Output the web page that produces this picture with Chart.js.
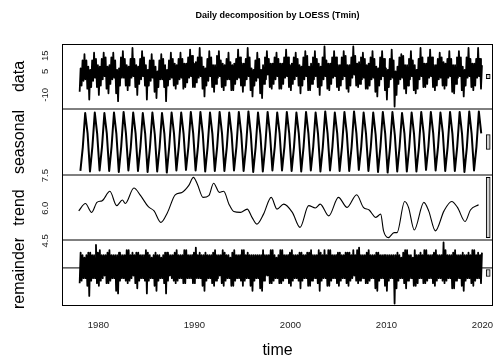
<!DOCTYPE html>
<html>
<head>
<meta charset="utf-8">
<script src="https://cdn.jsdelivr.net/npm/chart.js@4/dist/chart.umd.min.js"></script>
<style>
  html, body { margin: 0; padding: 0; background: #fff; }
  #wrap { position: relative; width: 503px; height: 363px; overflow: hidden; }
  canvas { position: absolute; left: 0; }
</style>
</head>
<body>
<div id="wrap">
  <canvas id="cData" width="503" height="111" style="top:0px;width:503px;height:111px"></canvas>
  <canvas id="cSeas" width="503" height="70" style="top:107px;width:503px;height:70px"></canvas>
  <canvas id="cTrend" width="503" height="89" style="top:163px;width:503px;height:89px"></canvas>
  <canvas id="cRem" width="503" height="125" style="top:238px;width:503px;height:125px"></canvas>
</div>
<script>
const firstYear = 1978;
const xTicks = [1980, 1990, 2000, 2010, 2020];
const dataTicks = [-10, 5, 15];
const trendTicks = [4.5, 6.0, 7.5];
const xMin = 1976.21, xMax = 2021.1;
const barX = 2020.6;

// data: per year, alternating low / high envelope of the daily values
const dataEnvelope = [
  [-8, 7, -4, 12, -1, 16, 0, 12, -6, 8],
  [-13, 6, -5, 12, -1, 17, 1, 13, -5, 9],
  [-10, 8, -4, 13, 0, 17, 2, 14, -6, 8],
  [-9, 9, -3, 14, 0, 17, 1, 12, -9, 6],
  [-14, 7, -4, 14, 1, 18, 1, 13, -4, 9],
  [-7, 8, -4, 13, 1, 20, 2, 13, -5, 9],
  [-10, 8, -3, 13, 0, 18, 2, 14, -4, 9],
  [-13, 6, -4, 12, -1, 16, 1, 12, -8, 8],
  [-12, 5, -5, 12, 0, 16, 0, 13, -5, 9],
  [-14, 6, -4, 12, 0, 17, 1, 13, -4, 10],
  [-6, 9, -3, 13, 0, 17, 1, 13, -6, 10],
  [-5, 10, -2, 14, 1, 19, 2, 15, -5, 10],
  [-5, 11, -2, 14, 1, 20, 2, 14, -6, 8],
  [-11, 7, -4, 13, -1, 18, 2, 14, -5, 9],
  [-8, 9, -3, 15, 1, 18, 2, 12, -5, 10],
  [-7, 9, -4, 13, 0, 17, 0, 11, -7, 9],
  [-7, 10, -3, 13, 0, 19, 1, 14, -4, 10],
  [-8, 10, -4, 13, 0, 20, 2, 14, -7, 7],
  [-11, 6, -4, 12, -1, 17, 1, 13, -9, 6],
  [-12, 9, -3, 14, 0, 18, 3, 13, -5, 10],
  [-6, 10, -3, 14, 0, 17, 2, 13, -6, 10],
  [-6, 10, -3, 14, 1, 19, 2, 14, -5, 9],
  [-7, 10, -3, 14, 0, 17, 2, 13, -4, 9],
  [-9, 8, -4, 14, 0, 18, 2, 15, -7, 8],
  [-7, 10, -3, 14, 0, 18, 2, 13, -5, 10],
  [-10, 8, -4, 14, 0, 21, 2, 12, -6, 10],
  [-7, 10, -3, 14, 1, 18, 2, 14, -5, 9],
  [-7, 9, -4, 14, 0, 18, 2, 15, -6, 9],
  [-8, 9, -4, 14, 1, 21, 3, 15, -4, 10],
  [-5, 11, -3, 14, 0, 17, 1, 13, -6, 9],
  [-6, 10, -4, 14, 0, 18, 1, 13, -8, 8],
  [-11, 7, -4, 14, 0, 18, 2, 13, -7, 7],
  [-13, 6, -5, 13, 0, 19, 1, 12, -17.5, 5],
  [-10, 8, -3, 14, 0, 16, 1, 15, -6, 9],
  [-9, 9, -4, 13, 0, 18, 2, 12, -7, 9],
  [-9, 6, -6, 13, 0, 20, 2, 14, -5, 10],
  [-5, 10, -3, 14, 1, 19, 2, 14, -5, 9],
  [-7, 9, -4, 13, 0, 17, 1, 14, -4, 11],
  [-6, 10, -4, 13, 1, 18, 2, 13, -8, 9],
  [-9, 9, -3, 14, 1, 18, 2, 14, -7, 8],
  [-11, 6, -4, 14, 1, 20, 2, 13, -5, 10],
  [-7, 10, -4, 13, 1, 20, 2, 13, -6, 9]
];

// seasonal: per year, winter / spring / summer / autumn
const seasonalValues = [
  [-5.7, -1.3, 5.1, 1.3], [-5.8, -1.2, 5.2, 1.2], [-5.6, -1.2, 5.1, 1.3], [-5.7, -1.1, 5.2, 1.2],
  [-5.9, -1.2, 5.3, 1.2], [-5.6, -1.3, 5.2, 1.3], [-5.7, -1.2, 5.1, 1.2], [-5.9, -1.2, 5.2, 1.1],
  [-5.8, -1.3, 5.1, 1.2], [-6.0, -1.2, 5.2, 1.3], [-5.6, -1.1, 5.2, 1.2], [-5.5, -1.2, 5.3, 1.3],
  [-5.6, -1.1, 5.3, 1.2], [-5.8, -1.2, 5.2, 1.2], [-5.7, -1.1, 5.3, 1.3], [-5.7, -1.2, 5.2, 1.2],
  [-5.6, -1.2, 5.3, 1.3], [-5.7, -1.2, 5.4, 1.2], [-5.9, -1.3, 5.2, 1.1], [-5.8, -1.2, 5.3, 1.2],
  [-5.6, -1.1, 5.2, 1.3], [-5.6, -1.2, 5.3, 1.3], [-5.7, -1.2, 5.2, 1.2], [-5.8, -1.1, 5.3, 1.3],
  [-5.6, -1.2, 5.2, 1.2], [-5.8, -1.2, 5.4, 1.2], [-5.6, -1.2, 5.2, 1.3], [-5.7, -1.1, 5.3, 1.3],
  [-5.7, -1.2, 5.4, 1.3], [-5.5, -1.2, 5.2, 1.2], [-5.7, -1.2, 5.2, 1.1], [-5.9, -1.2, 5.3, 1.2],
  [-6.0, -1.3, 5.3, 1.0], [-5.8, -1.1, 5.1, 1.3], [-5.8, -1.2, 5.2, 1.2], [-5.8, -1.4, 5.3, 1.3],
  [-5.5, -1.1, 5.3, 1.3], [-5.6, -1.2, 5.2, 1.4], [-5.7, -1.2, 5.3, 1.2], [-5.7, -1.1, 5.3, 1.2],
  [-5.9, -1.3, 5.4, 1.2], [-5.6, -1.2, 5.4, 1.3]
];

// trend: turning points
const trendTimes = [1977.95, 1978.65, 1979.3, 1979.85, 1980.4, 1981.2, 1981.9, 1982.5, 1982.8, 1983.7,
  1984.4, 1985.2, 1985.8, 1986.5, 1987.2, 1988.0, 1988.7, 1989.4, 1989.9, 1990.3, 1990.9, 1991.5,
  1992.0, 1992.6, 1993.05, 1993.6, 1994.1, 1994.8, 1995.5, 1996.0, 1996.5, 1997.2, 1998.0, 1998.6,
  1999.3, 2000.2, 2001.0, 2001.9, 2002.6, 2003.1, 2004.0, 2005.0, 2005.9, 2006.9, 2007.6, 2008.2,
  2008.9, 2009.4, 2009.7, 2010.2, 2010.8, 2011.1, 2011.9, 2012.3, 2012.9, 2013.9, 2014.4, 2015.1,
  2016.0, 2016.8, 2017.4, 2018.2, 2018.75, 2019.6];
const trendValues = [5.88, 6.22, 5.81, 6.27, 6.35, 6.78, 6.12, 6.38, 6.22, 6.93,
  6.58, 6.07, 5.88, 5.35, 5.81, 6.62, 6.73, 7.04, 7.42, 7.12, 6.5, 6.58,
  7.15, 6.73, 6.78, 6.19, 5.85, 5.81, 5.96, 5.58, 5.27, 5.73, 6.5, 5.96,
  6.19, 5.81, 5.12, 6.12, 6.01, 6.19, 5.65, 6.5, 6.04, 6.62, 6.04, 5.92,
  5.58, 5.73, 4.96, 4.65, 4.88, 4.88, 6.31, 6.04, 5.0, 6.27, 5.88, 4.96,
  5.88, 6.31, 6.04, 5.39, 5.92, 6.16];

// remainder: per year, alternating low / high envelope
const remainderEnvelope = [
  [-6, 6, -5, 5, -4, 4, -4, 5, -7, 6],
  [-11, 6, -5, 5, -4, 5, -4, 9, -6, 6],
  [-7, 7, -5, 5, -4, 5, -3, 5, -6, 6],
  [-6, 7, -5, 5, -4, 5, -4, 5, -9, 5],
  [-10, 6, -5, 5, -4, 5, -4, 5, -5, 7],
  [-6, 7, -5, 5, -4, 6, -3, 5, -6, 6],
  [-8, 6, -5, 5, -4, 5, -4, 5, -5, 7],
  [-10, 6, -5, 5, -4, 4, -4, 5, -7, 6],
  [-9, 5, -5, 5, -4, 4, -4, 5, -6, 6],
  [-10, 6, -5, 5, -3, 5, -4, 5, -5, 6],
  [-6, 7, -5, 5, -4, 5, -4, 5, -6, 7],
  [-6, 7, -4, 5, -4, 5, -4, 5, -6, 6],
  [-6, 8, -4, 5, -4, 6, -4, 5, -7, 5],
  [-9, 6, -5, 5, -4, 5, -4, 5, -6, 6],
  [-7, 7, -5, 5, -4, 5, -3, 5, -6, 7],
  [-7, 6, -5, 5, -4, 5, -4, 4, -7, 6],
  [-7, 7, -5, 5, -4, 5, -4, 5, -5, 7],
  [-7, 7, -5, 5, -4, 6, -4, 5, -7, 5],
  [-9, 5, -5, 5, -4, 5, -4, 5, -8, 5],
  [-9, 7, -5, 5, -3, 5, -3, 5, -6, 7],
  [-6, 7, -5, 5, -4, 4, -4, 5, -6, 7],
  [-6, 7, -5, 5, -4, 5, -4, 5, -6, 6],
  [-7, 7, -5, 5, -4, 5, -4, 5, -5, 6],
  [-8, 6, -5, 5, -4, 5, -4, 6, -7, 6],
  [-7, 7, -5, 5, -4, 5, -4, 5, -6, 7],
  [-9, 6, -5, 5, -4, 7, -4, 5, -7, 7],
  [-7, 7, -5, 5, -4, 5, -4, 5, -6, 6],
  [-7, 6, -5, 5, -4, 5, -4, 6, -6, 6],
  [-7, 6, -5, 5, -4, 7, -3, 5, -5, 7],
  [-6, 8, -5, 5, -4, 5, -4, 5, -6, 6],
  [-6, 7, -5, 5, -4, 5, -4, 5, -8, 6],
  [-9, 6, -5, 5, -4, 5, -4, 5, -7, 5],
  [-9, 5, -5, 5, -4, 5, -4, 5, -14, 5],
  [-8, 6, -5, 5, -4, 4, -4, 6, -6, 7],
  [-8, 7, -5, 5, -4, 5, -4, 4, -7, 7],
  [-7, 5, -6, 5, -4, 6, -4, 5, -6, 7],
  [-6, 7, -5, 5, -4, 5, -4, 5, -6, 6],
  [-7, 7, -5, 5, -4, 5, -4, 5, -5, 10],
  [-6, 7, -5, 5, -4, 5, -4, 5, -8, 6],
  [-8, 7, -5, 5, -4, 5, -4, 5, -7, 6],
  [-9, 5, -5, 5, -4, 6, -4, 5, -6, 7],
  [-7, 7, -5, 5, -4, 6, -4, 5, -6, 6]
];

const FONT = "'Liberation Sans', Arial, sans-serif";

function yearRowsToPoints(rows) {
  const pts = [];
  rows.forEach((row, yi) => {
    row.forEach((v, k) => pts.push({ x: firstYear + yi + (k + 0.5) / row.length, y: v }));
  });
  return pts;
}

function extent(values) {
  return [Math.min(...values), Math.max(...values)];
}

const dataRange = extent(dataEnvelope.flat());
const seasRange = extent(seasonalValues.flat());
const trendRange = extent(trendValues);
const remRange = extent(remainderEnvelope.flat());
// range bars all share the height of the smallest component range
const barSize = Math.min(...[dataRange, seasRange, trendRange, remRange].map(r => r[1] - r[0]));

// box around each panel; inner separators come out as soft grey double lines
const panelBox = {
  id: 'panelBox',
  afterDatasetsDraw(chart, args, o) {
    const { ctx, chartArea: a } = chart;
    const L = Math.round(a.left) + 0.5, R = Math.round(a.right) - 0.5;
    ctx.save();
    ctx.strokeStyle = '#000';
    ctx.lineWidth = 1;
    ctx.beginPath();
    ctx.moveTo(L, a.top); ctx.lineTo(L, a.bottom);
    ctx.moveTo(R, a.top); ctx.lineTo(R, a.bottom);
    if (o.top) { ctx.moveTo(L, a.top + 0.5); ctx.lineTo(R, a.top + 0.5); }
    const yb = o.inner ? a.bottom : a.bottom - 0.5;
    ctx.moveTo(L, yb); ctx.lineTo(R, yb);
    ctx.stroke();
    ctx.restore();
  }
};

function noEdgePadding(s) {
  s.paddingLeft = 0; s.paddingRight = 0; s.paddingTop = 0; s.paddingBottom = 0;
}

function panel(id, p) {
  const [lo, hi] = p.range;
  const pad = 0.04 * (hi - lo);
  const mid = (lo + hi) / 2;
  const datasets = [{
    data: p.points,
    borderColor: '#000',
    borderWidth: p.lineWidth,
    borderJoinStyle: 'round',
    pointRadius: 0,
    tension: p.smooth ? 0.4 : 0,
    cubicInterpolationMode: p.smooth ? 'monotone' : 'default',
    order: 1
  }];
  if (p.zeroLine) {
    datasets.push({
      data: [{ x: xMin, y: 0 }, { x: xMax, y: 0 }],
      borderColor: '#000', borderWidth: 1, pointRadius: 0, order: 2
    });
  }
  datasets.push({
    type: 'bar',
    data: [{ x: barX, y: [mid - barSize / 2, mid + barSize / 2] }],
    backgroundColor: '#d3d3d3',
    borderColor: '#000',
    borderWidth: 1,
    borderSkipped: false,
    barThickness: 4,
    order: 0
  });

  return new Chart(document.getElementById(id), {
    type: 'line',
    data: { datasets },
    options: {
      responsive: false,
      animation: false,
      events: [],
      layout: { padding: { left: 0, right: 10, top: p.padTop, bottom: p.padBottom } },
      plugins: {
        legend: { display: false },
        tooltip: { enabled: false },
        title: p.title ? {
          display: true,
          text: p.title,
          fullSize: false,
          color: '#000',
          font: { family: FONT, size: 9, weight: 'bold' },
          padding: { top: 10.6, bottom: 22.6 }
        } : { display: false },
        panelBox: { top: !!p.outerTop, inner: !p.outerBottom }
      },
      scales: {
        x: {
          type: 'linear',
          min: xMin,
          max: xMax,
          offset: false,
          display: !!p.xAxis,
          grid: { display: false, drawTicks: false, offset: false },
          border: { display: false },
          afterBuildTicks: s => { s.ticks = xTicks.map(v => ({ value: v })); },
          afterFit: s => { noEdgePadding(s); if (p.xAxis) s.height = 57; },
          ticks: {
            padding: 14,
            color: '#222',
            font: { family: FONT, size: 9.5 },
            callback: v => String(v)
          },
          title: {
            display: true,
            text: 'time',
            color: '#000',
            font: { family: FONT, size: 16 },
            padding: { top: 0, bottom: 2.4 }
          }
        },
        y: {
          min: lo - pad,
          max: hi + pad,
          grid: { display: false, drawTicks: false },
          border: { display: false },
          afterFit: s => { noEdgePadding(s); s.width = 62; },
          afterBuildTicks: s => { s.ticks = (p.ticks || []).map(v => ({ value: v })); },
          ticks: {
            display: !!p.ticks,
            minRotation: 90,
            maxRotation: 90,
            crossAlign: 'center',
            padding: 10,
            color: '#222',
            font: { family: FONT, size: 9.5 },
            callback: p.fmt || (v => String(v))
          },
          title: {
            display: true,
            text: p.label,
            color: '#000',
            font: { family: FONT, size: 16 },
            padding: { top: 9.8, bottom: 0 }
          }
        }
      }
    },
    plugins: [panelBox]
  });
}

panel('cData', {
  label: 'data', title: 'Daily decomposition by LOESS (Tmin)',
  points: yearRowsToPoints(dataEnvelope), range: dataRange, lineWidth: 1.8,
  ticks: dataTicks, padTop: 0, padBottom: 2, outerTop: true
});
panel('cSeas', {
  label: 'seasonal',
  points: yearRowsToPoints(seasonalValues), range: seasRange, lineWidth: 2,
  padTop: 2, padBottom: 2
});
panel('cTrend', {
  label: 'trend',
  points: trendTimes.map((t, i) => ({ x: t, y: trendValues[i] })), range: trendRange,
  lineWidth: 1.1, smooth: true,
  ticks: trendTicks, fmt: v => v.toFixed(1), padTop: 12, padBottom: 12
});
panel('cRem', {
  label: 'remainder',
  points: yearRowsToPoints(remainderEnvelope), range: remRange, lineWidth: 1.8,
  zeroLine: true, xAxis: true, padTop: 2, padBottom: 0, outerBottom: true
});
</script>
</body>
</html>
